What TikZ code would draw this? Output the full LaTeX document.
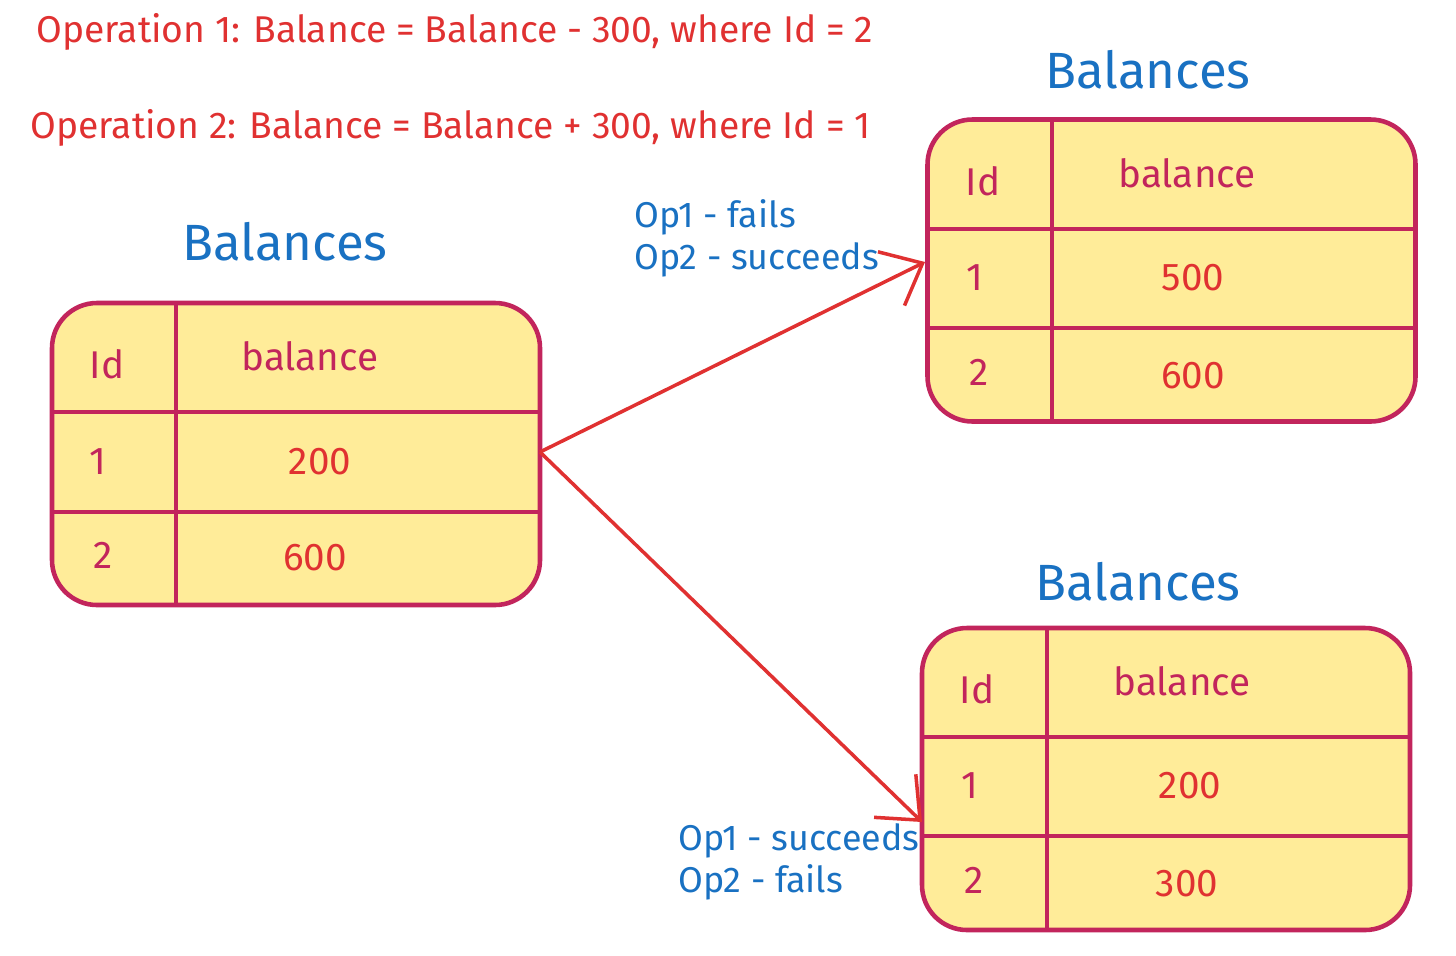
\documentclass[tikz,border=0pt]{standalone}
\usepackage{fontspec}
\setmainfont{Fira Sans}
\usetikzlibrary{positioning, arrows.meta}
\definecolor{tblfill}{HTML}{FFEC99}
\definecolor{tblline}{HTML}{C2255C}
\definecolor{opred}{HTML}{E03131}
\definecolor{opblue}{HTML}{1971C2}
\tikzset{
  tbl/.style={draw=tblline, fill=tblfill, line width=1.3pt, rounded corners=0.45cm,
    minimum width=4.88cm, minimum height=3.02cm, inner sep=0pt},
  sep/.style={draw=tblline, line width=1.3pt},
  head/.style={text=tblline, font=\fontsize{11}{13}\selectfont},
  cell/.style={text=opred, font=\fontsize{11}{13}\selectfont},
  title/.style={text=opblue, font=\fontsize{14.5}{17}\selectfont},
  note/.style={text=opblue, font=\fontsize{10.2}{12}\selectfont, align=left, anchor=west},
  oper/.style={text=opred, font=\fontsize{10.6}{13}\selectfont, anchor=west},
  link/.style={-{Straight Barb[length=3.5mm,width=6mm]}, draw=opred, line width=1pt}
}
\begin{document}
\begin{tikzpicture}[x=1cm, y=-1cm]
\useasboundingbox (0,0) rectangle (14.56,9.55);

%Operations
\node (opOne) [oper] at (0.24,0.32) {Operation 1: Balance = Balance - 300, where Id = 2};
\node (opTwo) [oper] at (0.18,1.28) {Operation 2: Balance = Balance + 300, where Id = 1};

%Initial table
\node (titleInit) [title] at (2.85,2.42) {Balances};
\node (tblInit) [tbl] at (2.96,4.54) {};
\draw[sep] (1.76,3.03) -- (1.76,6.05);
\draw[sep] (0.52,4.12) -- (5.40,4.12);
\draw[sep] (0.52,5.12) -- (5.40,5.12);
\node (idInit) [head] at (1.07,3.64) {Id};
\node (balInit) [head] at (3.10,3.56) {balance};
\node (rowOneInit) [head] at (0.98,4.62) {1};
\node (rowTwoInit) [head] at (1.03,5.55) {2};
\node (valOneInit) [cell] at (3.20,4.62) {200};
\node (valTwoInit) [cell] at (3.15,5.58) {600};

%Result of Op2 only
\node (titleTop) [title] at (11.48,0.70) {Balances};
\node (tblTop) [tbl] at (11.715,2.705) {};
\draw[sep] (10.52,1.20) -- (10.52,4.21);
\draw[sep] (9.28,2.29) -- (14.15,2.29);
\draw[sep] (9.28,3.28) -- (14.15,3.28);
\node (idTop) [head] at (9.83,1.81) {Id};
\node (balTop) [head] at (11.87,1.73) {balance};
\node (rowOneTop) [head] at (9.75,2.78) {1};
\node (rowTwoTop) [head] at (9.79,3.72) {2};
\node (valOneTop) [cell] at (11.93,2.78) {500};
\node (valTwoTop) [cell] at (11.93,3.76) {600};

%Result of Op1 only
\node (titleBot) [title] at (11.38,5.82) {Balances};
\node (tblBot) [tbl] at (11.66,7.79) {};
\draw[sep] (10.47,6.28) -- (10.47,9.30);
\draw[sep] (9.22,7.37) -- (14.10,7.37);
\draw[sep] (9.22,8.36) -- (14.10,8.36);
\node (idBot) [head] at (9.77,6.89) {Id};
\node (balBot) [head] at (11.82,6.81) {balance};
\node (rowOneBot) [head] at (9.70,7.86) {1};
\node (rowTwoBot) [head] at (9.74,8.80) {2};
\node (valOneBot) [cell] at (11.90,7.86) {200};
\node (valTwoBot) [cell] at (11.87,8.84) {300};

%Links
\coordinate (fork) at (5.40,4.52);
\coordinate (hitTop) at (9.25,2.62);
\coordinate (hitBot) at (9.22,8.22);
\draw[link] (fork) -- (hitTop);
\draw[link] (fork) -- (hitBot);
\node (noteTop) [note] at (6.22,2.38) {Op1 - fails\\Op2 - succeeds};
\node (noteBot) [note] at (6.66,8.62) {Op1 - succeeds\\Op2 - fails};

\end{tikzpicture}
\end{document}
